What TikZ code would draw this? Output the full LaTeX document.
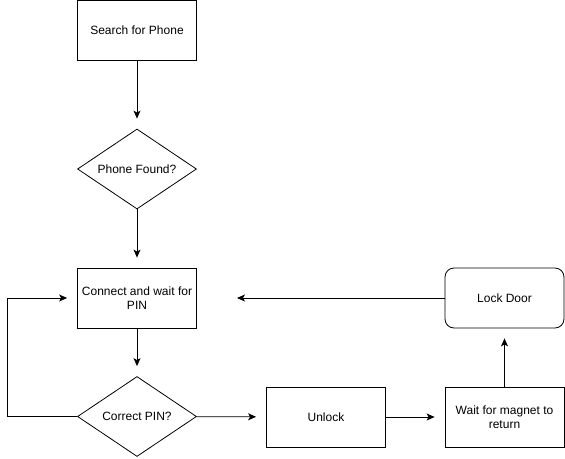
\documentclass[tikz,border=0pt]{standalone}
\usepackage{fontspec}
\setmainfont{Liberation Sans}
\usetikzlibrary{shapes.geometric,arrows.meta}
\begin{document}
\begin{tikzpicture}[x=1pt,y=-1pt,
  every node/.style={font=\fontsize{12}{14}\selectfont},
  box/.style={draw,line width=0.8pt,minimum width=119pt,minimum height=60pt,inner sep=0pt,align=center},
  rbox/.style={box,rounded corners=9pt},
  dia/.style={draw,line width=0.8pt,diamond,aspect=1.5,minimum width=119pt,minimum height=80pt,inner sep=0pt,align=center},
  conn/.style={line width=0.8pt,-{Stealth[length=8pt,width=7pt,inset=2pt]}},
  gap/.style={shorten >=10pt}]
\useasboundingbox (0,0) rectangle (565,458);
\node[box] (search) at (137,30) {Search for Phone};
\node[dia] (found) at (137,169) {Phone Found?};
\node[box] (connect) at (137,298) {Connect and wait for\\PIN};
\node[dia] (pin) at (137,416.5) {Correct PIN?};
\node[box] (unlock) at (326,417) {Unlock};
\node[box] (wait) at (504.5,417) {Wait for magnet to\\return};
\node[rbox] (lock) at (504.5,298) {Lock Door};
\coordinate (lockend) at (237,298);
\coordinate (loopa) at (7,416.5);
\coordinate (loopb) at (7,298);
\draw[conn,gap] (search) -- (found);
\draw[conn,gap] (found) -- (connect);
\draw[conn,gap] (connect) -- (pin);
\draw[conn,gap] (pin) -- (unlock);
\draw[conn,gap] (unlock) -- (wait);
\draw[conn,gap] (wait) -- (lock);
\draw[conn] (lock) -- (lockend);
\draw[conn,gap] (pin.west) -- (loopa) -- (loopb) -- (connect.west);
\end{tikzpicture}
\end{document}
